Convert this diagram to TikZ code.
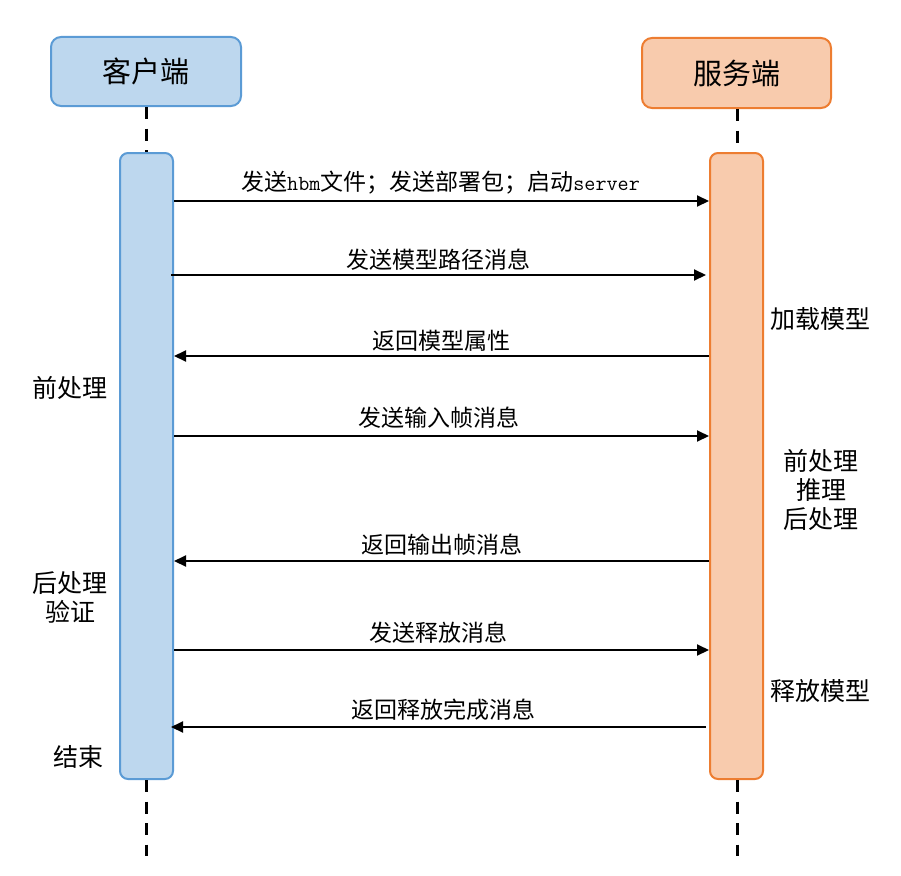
\documentclass[tikz,border=0pt]{standalone}
\usepackage{fontspec}
\setmainfont{Noto Sans CJK SC}
\newcommand\monof{\ttfamily\fontsize{21.5}{25}\selectfont}
\usetikzlibrary{arrows.meta}
\definecolor{cfill}{HTML}{BDD7EE}
\definecolor{cdraw}{HTML}{5B9BD5}
\definecolor{sfill}{HTML}{F8CBAD}
\definecolor{sdraw}{HTML}{ED7D31}
\begin{document}
\begin{tikzpicture}[x=1pt,y=-1pt,
  head/.style={draw, line width=2pt, rounded corners=10pt, inner sep=0pt,
    font=\fontsize{29}{34}\selectfont},
  bar/.style={draw, line width=2pt, rounded corners=8pt, inner sep=0pt,
    minimum width=53pt, minimum height=626pt},
  life/.style={line width=3pt, dash pattern=on 12pt off 9.5pt},
  msg/.style={line width=2pt, -{Triangle[length=12pt,width=11pt]}},
  lbl/.style={inner sep=0pt, font=\fontsize{23}{27}\selectfont},
  side/.style={inner sep=0pt, align=center, font=\fontsize{25}{29}\selectfont}
]
\useasboundingbox (0,0) rectangle (901,875);
% headers
\node[head, fill=cfill, draw=cdraw, minimum width=190pt, minimum height=69pt] (chead) at (146,71.5) {客户端};
\node[head, fill=sfill, draw=sdraw, minimum width=189pt, minimum height=70pt] (shead) at (736.5,73) {服务端};
% activation bars
\node[bar, fill=cfill, draw=cdraw] (cbar) at (146.5,466) {};
\node[bar, fill=sfill, draw=sdraw] (sbar) at (736.5,466) {};
% lifelines
\coordinate (cend) at (146,856);
\coordinate (send) at (737,856);
\draw[life] (chead.south -| cend) -- (cbar.north -| cend);
\draw[life] (cbar.south -| cend) -- (cend);
\draw[life] (shead.south -| send) -- (sbar.north -| send);
\draw[life] (sbar.south -| send) -- (send);
% message rows
\coordinate (y1) at (0,201);
\coordinate (y2) at (0,275);
\coordinate (y3) at (0,356);
\coordinate (y4) at (0,436);
\coordinate (y5) at (0,561);
\coordinate (y6) at (0,650);
\coordinate (y7) at (0,727);
\draw[msg] (cbar.east |- y1) -- node[lbl, yshift=18pt, xshift=-1pt] {发送{\monof hbm}文件；发送部署包；启动{\monof server}} (sbar.west |- y1);
\draw[msg] ([xshift=-3pt]cbar.east |- y2) -- node[lbl, yshift=15pt] {发送模型路径消息} ([xshift=-3pt]sbar.west |- y2);
\draw[msg] (sbar.west |- y3) -- node[lbl, yshift=15pt] {返回模型属性} (cbar.east |- y3);
\draw[msg] (cbar.east |- y4) -- node[lbl, yshift=18pt, xshift=-3pt] {发送输入帧消息} (sbar.west |- y4);
\draw[msg] (sbar.west |- y5) -- node[lbl, yshift=16pt] {返回输出帧消息} (cbar.east |- y5);
\draw[msg] (cbar.east |- y6) -- node[lbl, yshift=17pt, xshift=-3pt] {发送释放消息} (sbar.west |- y6);
\draw[msg] ([xshift=-3pt]sbar.west |- y7) -- node[lbl, yshift=17pt, xshift=5pt] {返回释放完成消息} ([xshift=-3pt]cbar.east |- y7);
% side notes
\node[side] (n1) at (70,388) {前处理};
\node[side] (n2) at (70,597.5) {后处理\\验证};
\node[side] (n3) at (78,757) {结束};
\node[side] (n4) at (820,319) {加载模型};
\node[side] (n5) at (821,490) {前处理\\推理\\后处理};
\node[side] (n6) at (820,691) {释放模型};
\end{tikzpicture}
\end{document}
